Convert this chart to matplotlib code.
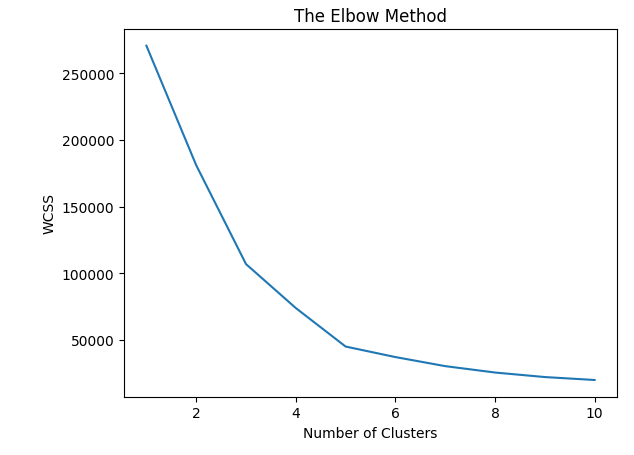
import matplotlib
matplotlib.use('Agg')
import matplotlib.pyplot as plt

clusters = [1, 2, 3, 4, 5, 6, 7, 8, 9, 10]
wcss = [270700, 181000, 106800, 73800, 44900, 37000, 30200, 25400, 22000, 19800]

fig = plt.figure(figsize=(6.34, 4.56), dpi=100)
ax = fig.add_axes([124 / 634, 58.3 / 456, 493 / 634, 367.7 / 456])
ax.plot(clusters, wcss)
ax.set_title('The Elbow Method')
ax.set_xlabel('Number of Clusters')
ax.set_ylabel('WCSS')
fig.savefig('out.png', dpi=100)
